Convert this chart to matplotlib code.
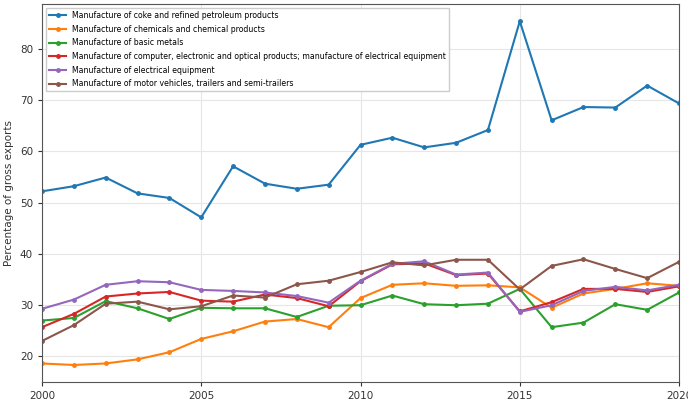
import matplotlib
matplotlib.use("Agg")
import matplotlib.pyplot as plt

years = list(range(2000, 2021))

labels = [
    "Manufacture of coke and refined petroleum products",
    "Manufacture of chemicals and chemical products",
    "Manufacture of basic metals",
    "Manufacture of computer, electronic and optical products; manufacture of electrical equipment",
    "Manufacture of electrical equipment",
    "Manufacture of motor vehicles, trailers and semi-trailers",
]

coke = [52.2, 53.2, 54.9, 51.8, 50.9, 47.1, 57.1, 53.7, 52.7, 53.5,
        61.3, 62.7, 60.8, 61.7, 64.2, 85.5, 66.1, 68.7, 68.6, 72.9, 69.4]
chemicals = [18.5, 18.2, 18.5, 19.3, 20.7, 23.3, 24.8, 26.7, 27.2, 25.6,
             31.3, 33.9, 34.2, 33.7, 33.8, 33.4, 29.4, 32.2, 33.1, 34.2, 33.7]
basic_metals = [26.9, 27.4, 30.7, 29.3, 27.2, 29.4, 29.3, 29.3, 27.6, 29.8,
                29.9, 31.8, 30.1, 29.9, 30.2, 33.1, 25.6, 26.5, 30.1, 29.0, 32.4]
computer = [25.6, 28.2, 31.6, 32.2, 32.5, 30.8, 30.6, 32.0, 31.3, 29.7,
            34.6, 37.9, 38.1, 35.8, 36.1, 28.7, 30.5, 33.1, 33.1, 32.5, 33.6]
electrical = [29.2, 31.0, 33.9, 34.6, 34.4, 32.9, 32.7, 32.4, 31.7, 30.4,
              34.7, 38.0, 38.5, 35.9, 36.3, 28.6, 29.9, 32.7, 33.5, 32.8, 33.9]
motor = [22.9, 26.0, 30.2, 30.6, 29.1, 29.7, 31.8, 31.4, 34.0, 34.7,
         36.4, 38.3, 37.7, 38.8, 38.8, 33.0, 37.6, 38.9, 37.0, 35.2, 38.4]

series = [coke, chemicals, basic_metals, computer, electrical, motor]
colors = ["#1f77b4", "#ff7f0e", "#2ca02c", "#d62728", "#9467bd", "#8c564b"]

fig = plt.figure(figsize=(6.88, 4.04), dpi=100)
ax = fig.add_axes([0.061, 0.054, 0.926, 0.936])

for vals, lab, c in zip(series, labels, colors):
    ax.plot(years, vals, marker="o", markersize=2.5, linewidth=1.5, color=c, label=lab)

ax.set_xlim(2000, 2020)
ax.set_xticks([2000, 2005, 2010, 2015, 2020])
ax.set_yticks([20, 30, 40, 50, 60, 70, 80])
ax.grid(True, color="#e6e6e6", linewidth=0.8)
ax.set_axisbelow(True)
ax.tick_params(labelsize=7.5, colors="#333333", length=3)
for s in ax.spines.values():
    s.set_color("#555555")
ax.set_ylabel("Percentage of gross exports", fontsize=7.5, color="#333333")

ax.legend(loc="upper left", fontsize=5.6, frameon=True, framealpha=1,
          edgecolor="#cccccc", borderaxespad=0.5, handlelength=2.2,
          labelspacing=0.6, fancybox=False)

fig.savefig("out.png", dpi=100)
